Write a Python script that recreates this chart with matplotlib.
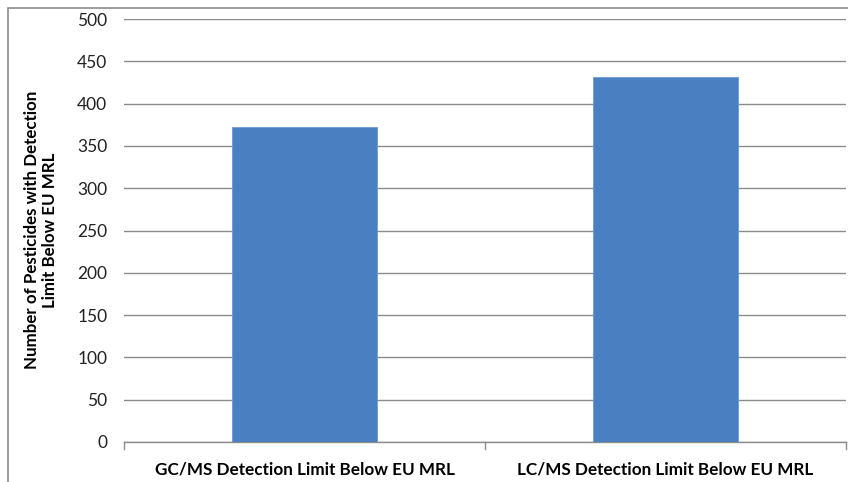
import matplotlib.pyplot as plt
from matplotlib.patches import Rectangle

categories = ['GC/MS Detection Limit Below EU MRL', 'LC/MS Detection Limit Below EU MRL']
values = [372, 432]
yticks = [0, 50, 100, 150, 200, 250, 300, 350, 400, 450, 500]

plt.rcParams['font.family'] = ['Lato', 'DejaVu Sans']

W, H = 848, 482
fig = plt.figure(figsize=(W / 100, H / 100), dpi=100)
ax = fig.add_axes([124 / W, (H - 442) / H, (846 - 124) / W, (442 - 19) / H])

# outer chart border
fig.patches.append(Rectangle((8 / W, -0.1), 1.2, 1 - 8 / H + 0.1, transform=fig.transFigure,
                             fill=False, edgecolor='#8c8c8c', linewidth=1.2))

x = range(len(categories))
ax.bar(x, values, width=0.4, color='#4a7fc1', edgecolor='#6c9bd2', linewidth=0.6, zorder=3)

ax.set_xlim(-0.5, len(categories) - 0.5)
ax.set_ylim(0, 500)
ax.set_yticks(yticks)
ax.yaxis.grid(True, color='#8c8c8c', linewidth=1.0, zorder=0)
ax.tick_params(axis='y', length=0, pad=12, labelsize=12.5, labelcolor='#222222')

ax.set_xticks(x)
ax.set_xticklabels(categories, fontsize=12.3, fontweight='bold')
ax.tick_params(axis='x', length=0, pad=14)
# category boundary ticks
for xb in [-0.5, 0.5, 1.5]:
    ax.plot([xb, xb], [0, -0.016], transform=ax.get_xaxis_transform(), color='#8c8c8c',
            linewidth=1.0, clip_on=False)

for s in ['top', 'right', 'left']:
    ax.spines[s].set_visible(False)
ax.spines['bottom'].set_color('#8c8c8c')
ax.spines['bottom'].set_linewidth(1.0)

fig.text(41 / W, 1 - 230 / H, 'Number of Pesticides with Detection\nLimit Below EU MRL',
         rotation=90, ha='center', va='center', fontsize=12.2, fontweight='bold',
         linespacing=1.1)

fig.savefig('out.png', dpi=100)
